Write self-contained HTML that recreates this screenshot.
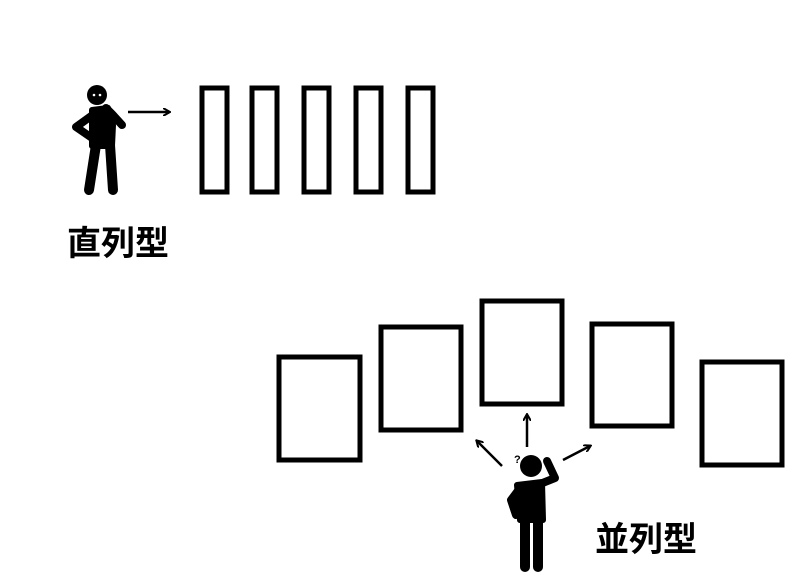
<!DOCTYPE html>
<html><head><meta charset="utf-8"><style>
body{margin:0;background:#fff;width:800px;height:576px;overflow:hidden}
svg{display:block}
text{font-family:"Liberation Sans","Noto Sans CJK JP",sans-serif;font-weight:bold}
</style></head><body>
<svg width="800" height="576" viewBox="0 0 800 576">
<defs><marker id="a" markerWidth="8" markerHeight="8" refX="6" refY="4" orient="auto" markerUnits="userSpaceOnUse"><path d="M0,0 L7,4 L0,8" fill="none" stroke="#000" stroke-width="2"/></marker></defs>
<g fill="none" stroke="#000" stroke-width="5">
<rect x="202" y="88" width="25" height="104"/>
<rect x="252" y="88" width="25" height="104"/>
<rect x="304" y="88" width="25" height="104"/>
<rect x="356" y="88" width="25" height="104"/>
<rect x="408" y="88" width="25" height="104"/>
<rect x="279" y="357" width="81" height="103"/>
<rect x="381" y="327" width="80" height="103"/>
<rect x="482" y="301" width="80" height="103"/>
<rect x="592" y="324" width="80" height="102"/>
<rect x="702" y="362" width="80" height="103"/>
</g>
<g stroke="#000" stroke-width="2.5" marker-end="url(#a)">
<line x1="128" y1="112" x2="169" y2="112"/>
<line x1="502" y1="466" x2="477" y2="441"/>
<line x1="527" y1="447" x2="527" y2="415"/>
<line x1="563" y1="460" x2="590" y2="446"/>
</g>
<!-- person 1 -->
<g fill="#000" stroke="#000" stroke-linecap="round" stroke-linejoin="round">
<circle cx="97" cy="95" r="10" stroke="none"/>
<circle cx="94" cy="95" r="1.3" fill="#fff" stroke="none"/><circle cx="100" cy="95" r="1.3" fill="#fff" stroke="none"/>
<path d="M92,110 L108,108 L113,125 L112,146 L92,146 Z" stroke-width="6"/>
<path d="M94,114 L76,127 L92,138" fill="none" stroke-width="8"/>
<path d="M106,108 L112,114 L122,125" fill="none" stroke-width="8"/>
<path d="M96,145 L89,190" stroke-width="10"/>
<path d="M110,145 L113,190" stroke-width="10"/>
</g>
<!-- person 2 -->
<g fill="#000" stroke="#000" stroke-linecap="round" stroke-linejoin="round">
<circle cx="531" cy="466" r="11" stroke="none"/>
<path d="M517,485 L542,482 L543,520 L520,520 Z" stroke-width="6"/>
<path d="M520,488 L511,500 L516,515" fill="none" stroke-width="8"/>
<path d="M540,484 L555,478 L547,461" fill="none" stroke-width="8"/>
<path d="M525,520 L525,567" stroke-width="10"/>
<path d="M538,520 L538,567" stroke-width="10"/>
</g>
<text x="514" y="463" font-size="11">?</text>
<text x="67" y="255" font-size="34">直列型</text>
<text x="595" y="551" font-size="34">並列型</text>
</svg>
</body></html>
